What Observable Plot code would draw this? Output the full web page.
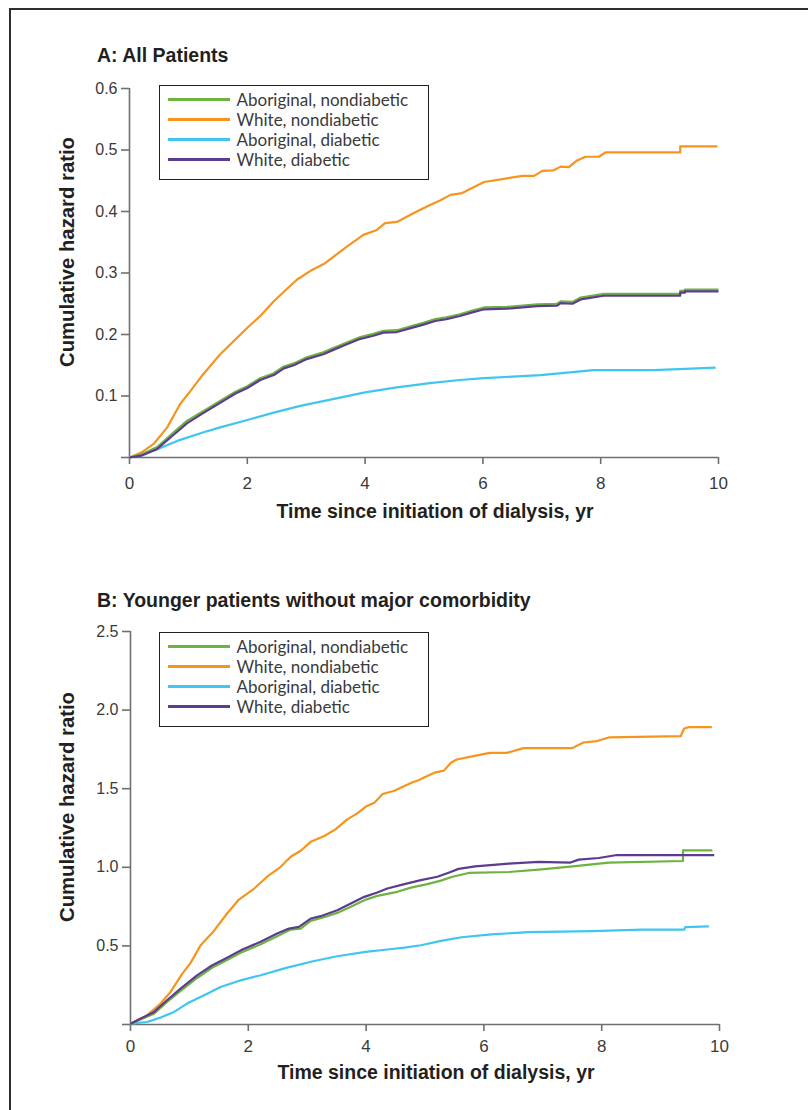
<!DOCTYPE html>
<html>
<head>
<meta charset="utf-8">
<script src="https://cdn.jsdelivr.net/npm/d3@7"></script>
<script src="https://cdn.jsdelivr.net/npm/@observablehq/plot@0.6"></script>
<style>
  html, body { margin: 0; padding: 0; background: #fff; }
  #page { position: relative; width: 808px; height: 1110px; overflow: hidden; background: #fff; }
  .frame { position: absolute; left: 9px; top: 8px; width: 900px; height: 1200px;
           border-top: 2px solid #2e2e2e; border-left: 2px solid #2e2e2e; }
  .ptitle { position: absolute; left: 97px; font: bold 19.5px "Liberation Sans", Arial, sans-serif;
            line-height: 20px; color: #231f20; white-space: nowrap; }
  .xtitle { position: absolute; font: bold 19.5px "Liberation Sans", Arial, sans-serif; line-height: 20px;
            color: #231f20; white-space: nowrap; transform: translateX(-50%); }
  .ytitle { position: absolute; width: 300px; height: 22px; line-height: 22px; text-align: center;
            font: bold 20.3px "Liberation Sans", Arial, sans-serif; color: #231f20; white-space: nowrap;
            transform: rotate(-90deg); }
  .plot { position: absolute; left: 0; }
  .plot svg g[aria-label="y-axis tick label"], .plot svg g[aria-label="y-axis tick label"] text { font-size: 16px; }
  .plot svg g[aria-label="x-axis tick label"], .plot svg g[aria-label="x-axis tick label"] text { font-size: 17px; }
  .legend { position: absolute; left: 159px; width: 268px; height: 90px; border: 1.5px solid #231f20;
            background: #fff; padding-top: 3px; box-sizing: content-box; }
  .lrow { display: flex; align-items: center; height: 20px; }
  .lsw { width: 62px; height: 3px; margin-left: 7.5px; margin-right: 7px; }
  .ltx { font: 17px Lato, "Open Sans", sans-serif; color: #3a3a3a; white-space: nowrap; }
</style>
</head>
<body>
<div id="page">
  <div class="frame"></div>
  <div class="ptitle" style="top:45px">A: All Patients</div>
  <div class="ptitle" style="top:590px">B: Younger patients without major comorbidity</div>
  <div id="plotA" class="plot" style="top:70px"></div>
  <div id="plotB" class="plot" style="top:615px"></div>
  <div class="xtitle" style="left:435px; top:501px">Time since initiation of dialysis, yr</div>
  <div class="xtitle" style="left:436px; top:1061.5px">Time since initiation of dialysis, yr</div>
  <div class="ytitle" style="left:-83.5px; top:241px">Cumulative hazard ratio</div>
  <div class="ytitle" style="left:-83.5px; top:796px">Cumulative hazard ratio</div>
  <div id="legendA" class="legend" style="top:85px"></div>
  <div id="legendB" class="legend" style="top:632px"></div>
</div>
<script>
// ---------- categories, colours, ticks ----------
const groups = ["Aboriginal, nondiabetic", "White, nondiabetic", "Aboriginal, diabetic", "White, diabetic"];
const groupColors = ["#6cb33f", "#f7941d", "#3ec5f0", "#5c3b91"];
const xTicks = [0, 2, 4, 6, 8, 10];
const yTicksA = [0, 0.1, 0.2, 0.3, 0.4, 0.5, 0.6];
const yTicksB = [0, 0.5, 1.0, 1.5, 2.0, 2.5];

// ---------- Panel A: all patients  [years, cumulative hazard] ----------
const aAborNonDiab = [[0,0],[0.2,0.005],[0.47,0.017],[0.75,0.041],[0.98,0.060],[1.23,0.074],[1.49,0.089],[1.80,0.107],[2.0,0.116],[2.22,0.129],[2.45,0.137],[2.62,0.148],[2.79,0.153],[3.01,0.163],[3.29,0.171],[3.46,0.178],[3.69,0.187],[3.92,0.196],[4.14,0.201],[4.31,0.206],[4.54,0.207],[4.76,0.213],[4.99,0.219],[5.19,0.225],[5.38,0.228],[5.61,0.233],[5.82,0.239],[6.02,0.244],[6.41,0.245],[6.92,0.249],[7.26,0.250],[7.32,0.254],[7.52,0.253],[7.66,0.260],[8.05,0.266],[9.35,0.266],[9.35,0.271],[9.43,0.271],[9.43,0.273],[10.0,0.273]];
const aWhiteNonDiab = [[0,0],[0.2,0.008],[0.41,0.022],[0.64,0.049],[0.86,0.087],[1.05,0.110],[1.23,0.133],[1.54,0.168],[2.0,0.211],[2.22,0.230],[2.45,0.254],[2.84,0.289],[3.10,0.305],[3.32,0.316],[3.69,0.343],[3.97,0.362],[4.2,0.370],[4.34,0.381],[4.54,0.383],[4.82,0.397],[5.05,0.408],[5.27,0.418],[5.45,0.427],[5.65,0.430],[5.85,0.440],[6.02,0.448],[6.41,0.454],[6.67,0.458],[6.87,0.458],[7.01,0.466],[7.2,0.467],[7.32,0.473],[7.46,0.472],[7.60,0.483],[7.74,0.489],[7.97,0.489],[8.08,0.496],[9.35,0.496],[9.35,0.506],[9.98,0.506]];
const aAborDiab = [[0,0],[0.41,0.011],[0.81,0.027],[1.26,0.041],[1.54,0.049],[2.0,0.061],[2.45,0.073],[2.90,0.084],[3.35,0.093],[4.0,0.106],[4.54,0.114],[5.10,0.121],[5.61,0.126],[6.02,0.129],[6.98,0.134],[7.88,0.142],[8.9,0.142],[9.95,0.146]];
const aWhiteDiab = [[0,0],[0.2,0.003],[0.47,0.014],[0.75,0.037],[0.98,0.056],[1.23,0.071],[1.49,0.086],[1.80,0.104],[2.0,0.113],[2.22,0.126],[2.45,0.134],[2.62,0.145],[2.79,0.150],[3.01,0.160],[3.29,0.168],[3.46,0.175],[3.69,0.184],[3.92,0.193],[4.14,0.198],[4.31,0.203],[4.54,0.204],[4.76,0.210],[4.99,0.216],[5.19,0.222],[5.38,0.225],[5.61,0.230],[5.82,0.236],[6.02,0.241],[6.41,0.242],[6.92,0.246],[7.26,0.247],[7.32,0.251],[7.52,0.250],[7.66,0.257],[8.05,0.263],[9.35,0.263],[9.35,0.268],[9.43,0.268],[9.43,0.270],[10.0,0.270]];

// ---------- Panel B: younger patients without major comorbidity ----------
const bAborNonDiab = [[0,0.005],[0.40,0.069],[0.62,0.143],[0.85,0.213],[1.13,0.296],[1.39,0.362],[1.64,0.410],[1.90,0.462],[2.21,0.510],[2.49,0.562],[2.72,0.604],[2.89,0.610],[3.06,0.659],[3.34,0.689],[3.51,0.710],[3.74,0.749],[3.97,0.791],[4.19,0.818],[4.53,0.844],[4.76,0.871],[5.04,0.893],[5.27,0.915],[5.45,0.938],[5.74,0.964],[6.42,0.970],[6.98,0.987],[7.55,1.008],[8.12,1.030],[9.38,1.040],[9.38,1.108],[9.88,1.108]];
const bWhiteNonDiab = [[0,0.005],[0.28,0.058],[0.51,0.133],[0.68,0.207],[0.88,0.324],[1.02,0.392],[1.19,0.504],[1.39,0.583],[1.64,0.706],[1.84,0.795],[2.10,0.865],[2.32,0.940],[2.55,1.003],[2.72,1.067],[2.89,1.105],[3.06,1.162],[3.29,1.199],[3.48,1.241],[3.68,1.305],[3.85,1.343],[3.99,1.385],[4.14,1.411],[4.28,1.466],[4.48,1.487],[4.65,1.517],[4.79,1.541],[4.90,1.555],[5.01,1.576],[5.16,1.602],[5.32,1.615],[5.44,1.665],[5.54,1.686],[5.82,1.707],[6.10,1.728],[6.39,1.728],[6.67,1.758],[7.50,1.758],[7.69,1.794],[7.92,1.803],[8.12,1.826],[9.34,1.834],[9.40,1.883],[9.48,1.892],[9.87,1.892]];
const bAborDiab = [[0,0.005],[0.28,0.016],[0.51,0.044],[0.74,0.080],[0.96,0.133],[1.25,0.186],[1.53,0.239],[1.87,0.281],[2.21,0.313],[2.66,0.362],[3.12,0.404],[3.51,0.434],[3.99,0.462],[4.36,0.477],[4.65,0.489],[4.93,0.504],[5.27,0.532],[5.62,0.555],[6.13,0.573],[6.76,0.588],[7.84,0.594],[8.69,0.603],[9.40,0.603],[9.42,0.620],[9.82,0.624]];
const bWhiteDiab = [[0,0.005],[0.40,0.080],[0.62,0.154],[0.85,0.228],[1.13,0.313],[1.39,0.377],[1.64,0.425],[1.90,0.477],[2.21,0.526],[2.49,0.579],[2.69,0.610],[2.86,0.621],[3.06,0.674],[3.23,0.689],[3.51,0.727],[3.74,0.770],[3.97,0.812],[4.19,0.840],[4.36,0.865],[4.65,0.893],[4.93,0.918],[5.21,0.940],[5.40,0.965],[5.57,0.990],[5.85,1.006],[6.42,1.023],[6.93,1.034],[7.47,1.030],[7.61,1.049],[7.95,1.059],[8.26,1.078],[9.91,1.078]];

// ---------- helpers ----------
const toRows = (pairs, group) => pairs.map(([t, h]) => ({t, h, group}));
const drawOrder = [2, 1, 0, 3]; // blue, orange, green, purple on top

function panel(seriesList, yMax, yTicks, layout) {
  const marks = [
    Plot.ruleY([0], {stroke: "#6f6f6f", strokeWidth: 1.6}),
    Plot.ruleX([0], {y1: 0, y2: yMax, stroke: "#6f6f6f", strokeWidth: 1.6}),
    Plot.axisX({ticks: xTicks, tickSize: 7, tickPadding: layout.xPad, stroke: "#6f6f6f", strokeWidth: 1.6,
                fill: "#3a3a3a", fontSize: 17, label: null, tickFormat: d => String(d)}),
    Plot.axisY({ticks: yTicks, tickSize: 8, tickPadding: 4, stroke: "#6f6f6f", strokeWidth: 1.6,
                fill: "#3a3a3a", fontSize: 16, label: null, tickFormat: d => d === 0 ? "" : d.toFixed(1)})
  ];
  for (const i of drawOrder) {
    marks.push(Plot.line(toRows(seriesList[i], groups[i]),
      {x: "t", y: "h", stroke: "group", strokeWidth: 2.2, strokeLinejoin: "round", strokeLinecap: "butt"}));
  }
  return Plot.plot({
    width: 808, height: layout.height,
    marginLeft: layout.left, marginRight: layout.right, marginTop: layout.top, marginBottom: layout.bottom,
    x: {domain: [0, 10]},
    y: {domain: [0, yMax]},
    color: {domain: groups, range: groupColors},
    style: {fontFamily: '"Liberation Sans", Arial, sans-serif', background: "transparent", overflow: "visible"},
    marks
  });
}

document.getElementById("plotA").append(
  panel([aAborNonDiab, aWhiteNonDiab, aAborDiab, aWhiteDiab], 0.6, yTicksA,
        {height: 430, left: 129, right: 90, top: 18, bottom: 43, xPad: 12}));
document.getElementById("plotB").append(
  panel([bAborNonDiab, bWhiteNonDiab, bAborDiab, bWhiteDiab], 2.5, yTicksB,
        {height: 440, left: 130, right: 89, top: 16, bottom: 31, xPad: 8}));

function legend(id) {
  const el = document.getElementById(id);
  groups.forEach((g, i) => {
    const row = document.createElement("div");
    row.className = "lrow";
    const sw = document.createElement("div");
    sw.className = "lsw";
    sw.style.background = groupColors[i];
    const tx = document.createElement("span");
    tx.className = "ltx";
    tx.textContent = g;
    row.append(sw, tx);
    el.append(row);
  });
}
legend("legendA");
legend("legendB");
</script>
</body>
</html>
